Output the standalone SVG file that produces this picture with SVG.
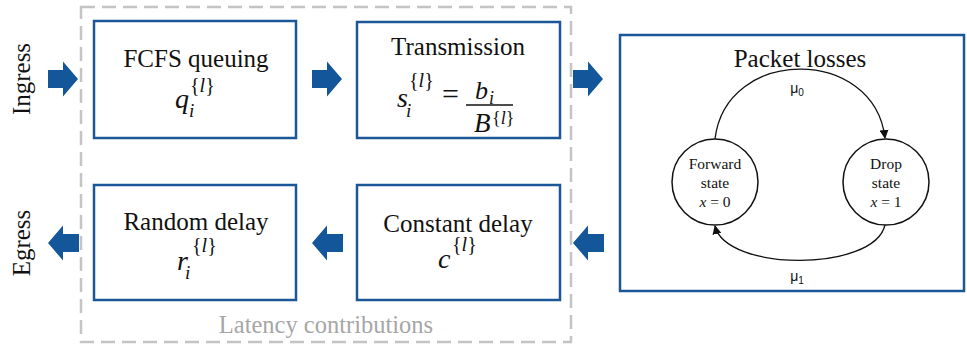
<svg xmlns="http://www.w3.org/2000/svg" width="967" height="344" viewBox="0 0 967 344">
  <defs>
    <style>
      .box { fill: #ffffff; stroke: #1b5797; stroke-width: 2.5; }
      .frame { fill: none; stroke: #c4c4c4; stroke-width: 2.5; stroke-dasharray: 14 7; }
      .flow { fill: #14569a; }
      .t { font-family: "Liberation Serif", "Times New Roman", serif; fill: #111111; }
      .title { font-size: 25px; text-anchor: middle; }
      .m { font-family: "Liberation Serif", "Times New Roman", serif; font-style: italic; fill: #111111; }
      .up { font-style: normal; }
      .state { fill: #ffffff; stroke: #111111; stroke-width: 1.5; }
      .st { font-size: 15.5px; text-anchor: middle; }
      .edge { fill: none; stroke: #111111; stroke-width: 1.3; }
      .mu { font-family: "Liberation Sans", Arial, sans-serif; font-size: 14px; fill: #111111; text-anchor: middle; }
    </style>
    <!-- block arrow pointing right, tip at origin -->
    <path id="blockR" d="M-30,-9 H-15 V-17.5 L0,0 L-15,17.5 V9 H-30 Z"/>
    <!-- block arrow pointing left, tip at origin -->
    <path id="blockL" d="M31,-9 H15 V-17.5 L0,0 L15,17.5 V9 H31 Z"/>
    <marker id="tip" viewBox="0 0 10 10" refX="9" refY="5" markerWidth="9" markerHeight="9" markerUnits="userSpaceOnUse" orient="auto">
      <path d="M0,0 L10,5 L0,10 Z" fill="#111111"/>
    </marker>
  </defs>

  <rect width="967" height="344" fill="#ffffff"/>

  <!-- dashed frame grouping the latency terms -->
  <g id="latency-frame">
    <rect class="frame" x="81" y="7" width="490" height="335"/>
    <text class="t" x="326" y="333" font-size="24.5" text-anchor="middle" style="fill:#a6a6a6">Latency contributions</text>
  </g>

  <!-- side labels -->
  <g id="ingress">
    <text class="t" font-size="25" text-anchor="middle" transform="translate(30,79) rotate(-90)">Ingress</text>
  </g>
  <g id="egress">
    <text class="t" font-size="25" text-anchor="middle" transform="translate(30,243) rotate(-90)">Egress</text>
  </g>

  <!-- block arrows between stages -->
  <g id="connectors">
    <use href="#blockR" class="flow" x="78" y="79"/>
    <use href="#blockR" class="flow" x="342" y="79"/>
    <use href="#blockR" class="flow" x="603" y="79"/>
    <use href="#blockL" class="flow" x="573" y="243"/>
    <use href="#blockL" class="flow" x="312" y="243"/>
    <use href="#blockL" class="flow" x="48" y="243"/>
  </g>

  <g id="fcfs">
    <rect class="box" x="94" y="21" width="202" height="117"/>
    <text class="t title" x="196" y="67">FCFS queuing</text>
    <text class="m" font-size="28" x="175" y="108">q</text>
    <text class="m" font-size="19" x="189" y="117">i</text>
    <text class="m" font-size="20" x="190" y="92"><tspan class="up">{</tspan>l<tspan class="up">}</tspan></text>
  </g>

  <g id="transmission">
    <rect class="box" x="357" y="22" width="203" height="116"/>
    <text class="t title" x="458" y="55">Transmission</text>
    <text class="m" font-size="28" x="397" y="107">s</text>
    <text class="m" font-size="19" x="406" y="117">i</text>
    <text class="m" font-size="20" x="409" y="87"><tspan class="up">{</tspan>l<tspan class="up">}</tspan></text>
    <text class="t" font-size="30" x="442" y="104">=</text>
    <text class="m" font-size="26" x="475" y="99">b</text>
    <text class="m" font-size="18" x="489" y="104">i</text>
    <line x1="466" y1="105" x2="513" y2="105" stroke="#111111" stroke-width="1.5"/>
    <text class="m" font-size="27" x="474" y="132">B</text>
    <text class="m" font-size="18" x="492" y="124"><tspan class="up">{</tspan>l<tspan class="up">}</tspan></text>
  </g>

  <g id="random-delay">
    <rect class="box" x="94" y="185" width="202" height="115"/>
    <text class="t title" x="196" y="230">Random delay</text>
    <text class="m" font-size="28" x="177" y="270">r</text>
    <text class="m" font-size="19" x="185" y="279">i</text>
    <text class="m" font-size="20" x="192" y="252"><tspan class="up">{</tspan>l<tspan class="up">}</tspan></text>
  </g>

  <g id="constant-delay">
    <rect class="box" x="357" y="185" width="203" height="115"/>
    <text class="t title" x="458" y="232">Constant delay</text>
    <text class="m" font-size="28" x="438" y="268">c</text>
    <text class="m" font-size="20" x="452" y="251"><tspan class="up">{</tspan>l<tspan class="up">}</tspan></text>
  </g>

  <g id="packet-losses">
    <rect class="box" x="620" y="35" width="344" height="256"/>
    <text class="t title" x="800" y="67">Packet losses</text>
    <!-- two-state loss chain -->
    <path class="edge" d="M715,139 C726,46 874,46 885,138" marker-end="url(#tip)"/>
    <path class="edge" d="M885,225 C874,272 726,272 715,226" marker-end="url(#tip)"/>
    <text class="mu" x="797" y="93">μ<tspan font-size="10" dy="3">0</tspan></text>
    <text class="mu" x="797" y="281">μ<tspan font-size="10" dy="3">1</tspan></text>
    <g id="forward-state">
      <circle class="state" cx="715" cy="182" r="43"/>
      <text class="t st" x="715" y="169">Forward</text>
      <text class="t st" x="715" y="188">state</text>
      <text class="t st" x="715" y="207"><tspan font-style="italic">x</tspan> = 0</text>
    </g>
    <g id="drop-state">
      <circle class="state" cx="886" cy="182" r="43"/>
      <text class="t st" x="886" y="169">Drop</text>
      <text class="t st" x="886" y="188">state</text>
      <text class="t st" x="886" y="207"><tspan font-style="italic">x</tspan> = 1</text>
    </g>
  </g>
</svg>
